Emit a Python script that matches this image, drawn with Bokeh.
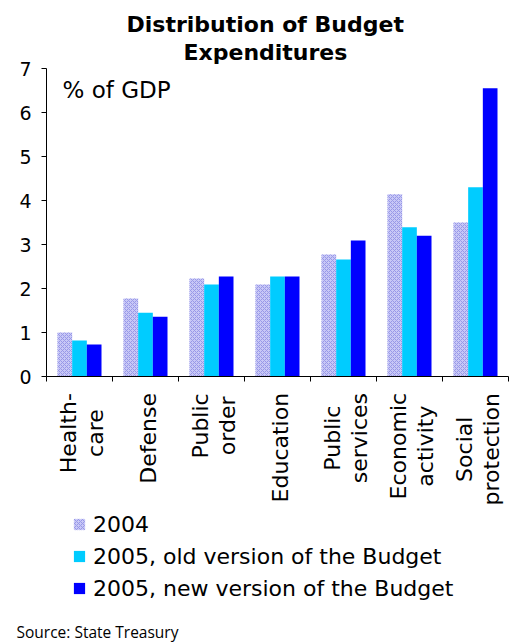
import math
from bokeh.plotting import figure
from bokeh.layouts import column
from bokeh.models import (Range1d, FixedTicker, Label, Legend, LegendItem, ColumnDataSource,
                          CustomJSTickFormatter, Title)
from bokeh.embed import file_html
from bokeh.resources import INLINE

# ---------------- data ----------------
categories = ["Health-care", "Defense", "Public order", "Education",
              "Public services", "Economic activity", "Social protection"]
category_lines = [["Health-", "care"], ["Defense"], ["Public", "order"], ["Education"],
                  ["Public", "services"], ["Economic", "activity"], ["Social", "protection"]]
series_names = ["2004", "2005, old version of the Budget", "2005, new version of the Budget"]
values_2004 = [1.00, 1.77, 2.23, 2.09, 2.77, 4.14, 3.50]
values_2005_old = [0.82, 1.45, 2.09, 2.27, 2.66, 3.39, 4.30]
values_2005_new = [0.73, 1.36, 2.27, 2.27, 3.09, 3.20, 6.55]
y_ticks = [0, 1, 2, 3, 4, 5, 6, 7]
title_line1 = "Distribution of Budget"
title_line2 = "Expenditures"
unit_label = "% of GDP"
source_note = "Source: State Treasury"

# ---------------- layout (page pixels) ----------------
W, H = 517, 642
FL, FT, FW, FH = 46, 68, 462, 308
FR = W - FL - FW
FB = 16
H1 = FT + FH + FB           # height of the chart figure
H2 = H - H1                 # height of the label / legend panel below it
NX = len(categories)
YMAX = 7
cat_w = FW / NX

styles = [dict(fill_color="#c8c8f6", line_color=None, hatch_pattern="diagonal_cross",
               hatch_color="#9898e8", hatch_scale=4, hatch_weight=1),
          dict(fill_color="#00ccff", line_color=None),
          dict(fill_color="#0000ff", line_color=None)]
FONT = "DejaVu Sans"

p = figure(frame_width=FW, frame_height=FH, x_range=Range1d(0, NX), y_range=Range1d(0, YMAX),
           min_border_left=FL, min_border_right=FR, min_border_top=FT, min_border_bottom=FB,
           output_backend="svg", toolbar_location=None, tools="",
           title=title_line1)
p.outline_line_color = None
p.xgrid.visible = False
p.ygrid.visible = False
p.background_fill_color = "white"
p.border_fill_color = "white"

# titles
p.title.align = "left"
p.title.offset = 80
p.title.text_font = FONT
p.title.text_font_size = "22px"
p.title.text_font_style = "bold"
p.title.text_color = "black"
p.title.standoff = -4.6
t2 = Title(text=title_line2, align="left", offset=137, text_font=FONT,
           text_font_size="22px", text_font_style="bold", text_color="black", standoff=7)
p.add_layout(t2, "above")

# y axis
p.yaxis.ticker = FixedTicker(ticks=y_ticks, minor_ticks=[])
p.yaxis.major_tick_in = 0
p.yaxis.major_tick_out = 5
p.yaxis.minor_tick_line_color = None
p.yaxis.axis_line_color = "black"
p.yaxis.major_tick_line_color = "black"
p.yaxis.major_label_text_font = FONT
p.yaxis.major_label_text_font_size = "19px"
p.yaxis.major_label_text_color = "black"
p.yaxis.major_label_standoff = 10

# x axis: tick marks between categories (names are set in the panel below)
centers = [i + 0.5 for i in range(NX)]
p.xaxis.ticker = FixedTicker(ticks=centers, minor_ticks=list(range(NX + 1)))
p.xaxis.formatter = CustomJSTickFormatter(code="return '';")
p.xaxis.major_tick_in = 0
p.xaxis.major_tick_out = 0
p.xaxis.major_tick_line_color = None
p.xaxis.minor_tick_in = 0
p.xaxis.minor_tick_out = 5
p.xaxis.minor_tick_line_color = "black"
p.xaxis.axis_line_color = "black"
p.xaxis.major_label_standoff = 0
p.xaxis.major_label_text_font_size = "2px"

# bars
bar_w = 1.0 / 4.5
src = ColumnDataSource(dict(
    x0=[c - bar_w for c in centers],
    x1=centers,
    x2=[c + bar_w for c in centers],
    v2004=values_2004, vold=values_2005_old, vnew=values_2005_new))

p.vbar(x="x0", top="v2004", bottom=0, width=bar_w, source=src, **styles[0])
p.vbar(x="x1", top="vold", bottom=0, width=bar_w, source=src, **styles[1])
p.vbar(x="x2", top="vnew", bottom=0, width=bar_w, source=src, **styles[2])

# unit label inside the frame
p.add_layout(Label(x=(62 - FL) / cat_w, y=(FT + FH - 89) * YMAX / FH, text=unit_label,
                   text_align="left", text_baseline="middle", text_font=FONT,
                   text_font_size="23px", text_color="black"))

# ---------------- category names, legend, source ----------------
SRC_FS = 15.5
SRC_STANDOFF = -0.8
TH = SRC_FS * 1.362 + SRC_STANDOFF   # estimated height of the source-note panel
FH2 = H2 - TH                        # frame height of the lower figure

p2 = figure(width=W, height=H2, x_range=Range1d(0, NX), y_range=Range1d(FH2, 0),
            min_border=0, output_backend="svg", toolbar_location=None, tools="",
            x_axis_location=None, y_axis_location=None)
p2.outline_line_color = None
p2.xgrid.visible = False
p2.ygrid.visible = False
p2.background_fill_color = "white"
p2.border_fill_color = "white"

CAT_FS = 22
adv = {"-": .361, "D": .770, "E": .632, "H": .752, "P": .603, "S": .635,
       "a": .613, "b": .635, "c": .550, "d": .635, "e": .615, "f": .352, "h": .634,
       "i": .278, "l": .278, "m": .974, "n": .634, "o": .612, "p": .635, "r": .411,
       "s": .521, "t": .392, "u": .634, "v": .592, "y": .592}


def text_len(s):
    return sum(adv.get(ch, 0.6) for ch in s) * CAT_FS


LABEL_TOP = 393 - H1        # top of the longest line, in panel pixels
LINE_SP = 27
for i, lines in enumerate(category_lines):
    maxlen = max(text_len(s) for s in lines)
    cy = LABEL_TOP + maxlen / 2
    n = len(lines)
    for k, s in enumerate(lines):
        shift_px = 2.5 + (k - (n - 1) / 2) * LINE_SP
        p2.add_layout(Label(x=centers[i] + shift_px / cat_w, y=cy, text=s,
                            angle=math.pi / 2, text_align="center", text_baseline="middle",
                            text_font=FONT, text_font_size=f"{CAT_FS}px", text_color="black"))

# legend (swatches use renderers styled like the bars, with one off-view point)
dummy = ColumnDataSource(dict(x=[-1000], top=[0]))
leg_rs = [p2.vbar(x="x", top="top", bottom=0, width=1, source=dummy, **st) for st in styles]

legend = Legend(items=[LegendItem(label=n, renderers=[r]) for n, r in zip(series_names, leg_rs)],
                location=(26, H1 + FH2 - 604), orientation="vertical")
legend.border_line_color = None
legend.background_fill_alpha = 0
legend.padding = 0
legend.margin = 0
legend.spacing = 6
legend.glyph_width = 14
legend.glyph_height = 14
legend.label_height = 26
legend.label_standoff = 7
legend.label_text_font = FONT
legend.label_text_font_size = "22px"
legend.label_text_color = "black"
p2.add_layout(legend, "center")

# source note below everything
src_title = Title(text=source_note, align="left", offset=16 - FL, text_font="Open Sans",
                  text_font_size=f"{SRC_FS}px", text_font_style="normal", text_color="black",
                  standoff=SRC_STANDOFF)
p2.add_layout(src_title, "below")

layout = column(p, p2, spacing=0)
open("out.html", "w").write(file_html(layout, INLINE))
